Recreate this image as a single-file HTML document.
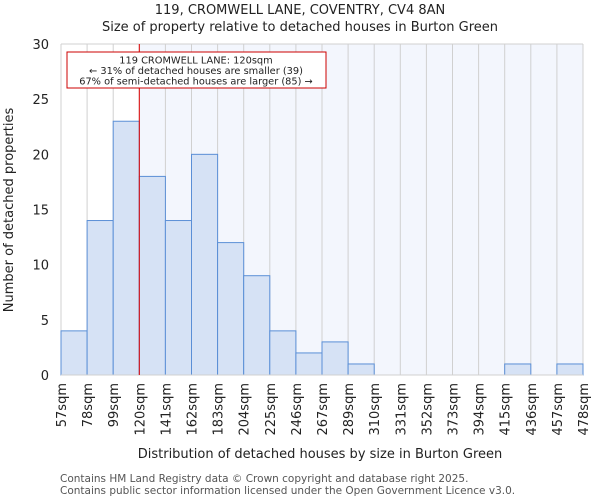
<!DOCTYPE html>
<html><head><meta charset="utf-8"><style>
body{margin:0;background:#fff;font-family:"DejaVu Sans","Liberation Sans",sans-serif;}
</style></head><body>
<svg id="chart" width="600" height="500" xmlns="http://www.w3.org/2000/svg" font-family="DejaVu Sans, Liberation Sans, sans-serif">
<text x="300" y="14" text-anchor="middle" font-size="13" fill="#222">119, CROMWELL LANE, COVENTRY, CV4 8AN</text>
<text x="300" y="31" text-anchor="middle" font-size="13" fill="#222">Size of property relative to detached houses in Burton Green</text>
<g id="plot"></g>
<text transform="translate(13,210) rotate(-90)" text-anchor="middle" font-size="13" fill="#222">Number of detached properties</text>
<text x="320" y="458" text-anchor="middle" font-size="13" fill="#222">Distribution of detached houses by size in Burton Green</text>
<text x="60" y="482" font-size="10.5" fill="#555">Contains HM Land Registry data © Crown copyright and database right 2025.</text>
<text x="60" y="494" font-size="10.5" fill="#555">Contains public sector information licensed under the Open Government Licence v3.0.</text>
</svg>
<script>
const binLabels=["57sqm","78sqm","99sqm","120sqm","141sqm","162sqm","183sqm","204sqm","225sqm","246sqm","267sqm","289sqm","310sqm","331sqm","352sqm","373sqm","394sqm","415sqm","436sqm","457sqm","478sqm"];
const counts=[4,14,23,18,14,20,12,9,4,2,3,1,0,0,0,0,0,1,0,1];
const yTicks=[0,5,10,15,20,25,30];
const markerBin=3;
const NS="http://www.w3.org/2000/svg";
const X0=61,X1=583,Y0=375,Y1=44,YMAX=30;
const bw=(X1-X0)/counts.length;
const xs=i=>X0+i*bw;
const ys=v=>Y0-(v/YMAX)*(Y0-Y1);
const g=document.getElementById('plot');
function mk(t,a){const e=document.createElementNS(NS,t);for(const k in a)e.setAttribute(k,a[k]);g.appendChild(e);return e;}
let bg=mk('rect',{x:X0,y:Y1,width:X1-X0,height:Y0-Y1,fill:'#fff'});


let bg2=mk('rect',{x:xs(markerBin),y:Y1,width:X1-xs(markerBin),height:Y0-Y1,fill:'#f3f6fd'});


for(let i=0;i<=counts.length;i++){
 let l=mk('line',{x1:xs(i),x2:xs(i),y1:Y1,y2:Y0,stroke:'#d0d0d0','stroke-width':1});
 
 
}
mk('line',{x1:X0,x2:X1,y1:Y1,y2:Y1,stroke:'#d0d0d0'});
counts.forEach((c,i)=>{
 if(c<=0)return;
 let r=mk('rect',{x:xs(i),y:ys(c),width:bw,height:Y0-ys(c),fill:'#d6e2f5',stroke:'#5b8fd6','stroke-width':1});
 
 
});
mk('line',{x1:X0,x2:X1,y1:Y0,y2:Y0,stroke:'#d0d0d0'});
yTicks.forEach(v=>{
 let t=mk('text',{x:X0-12,y:ys(v)+5,'text-anchor':'end','font-size':13,fill:'#222'});
 t.textContent=v;
 
 
});
binLabels.forEach((s,i)=>{
 let t=mk('text',{transform:`translate(${xs(i)+5},${Y0+8}) rotate(-90)`,'text-anchor':'end','font-size':13,fill:'#222'});
 t.textContent=s;
 
 
});
let ml=mk('line',{x1:xs(markerBin),x2:xs(markerBin),y1:Y1,y2:Y0,stroke:'#dd0000','stroke-width':1});


let box=mk('rect',{x:67,y:52,width:259,height:36,fill:'#fff',stroke:'#cc0000','stroke-width':1});


["119 CROMWELL LANE: 120sqm","← 31% of detached houses are smaller (39)","67% of semi-detached houses are larger (85) →"].forEach((s,i)=>{
 let t=mk('text',{x:196,y:63.5+i*10.5,'text-anchor':'middle','font-size':9.8,fill:'#222'});
 t.textContent=s;
 
 
});
</script>
</body></html>
